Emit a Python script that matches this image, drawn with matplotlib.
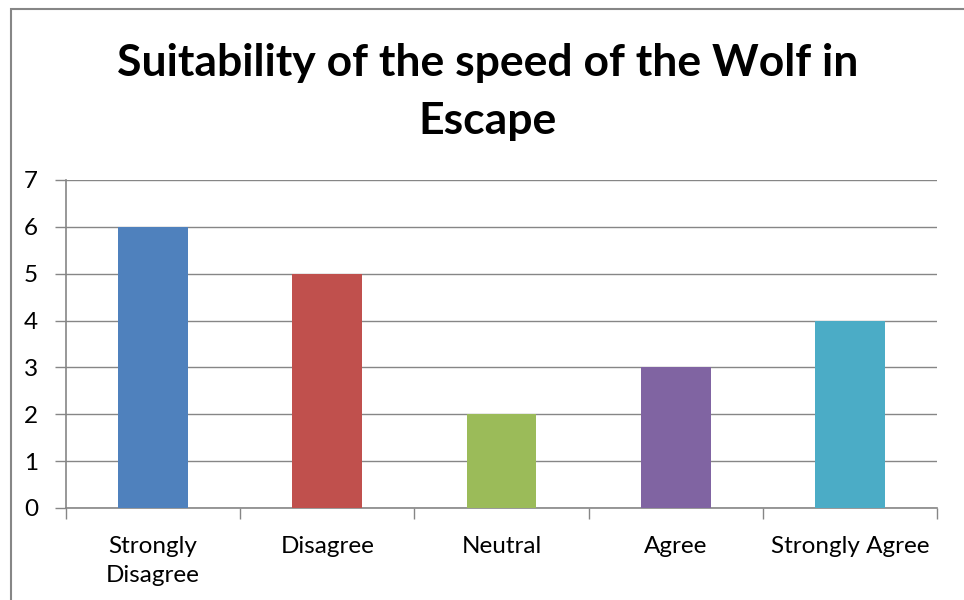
import matplotlib
matplotlib.use("Agg")
import matplotlib.pyplot as plt
from matplotlib.patches import Rectangle
import numpy as np

categories = ["Strongly\nDisagree", "Disagree", "Neutral", "Agree", "Strongly Agree"]
values = [6, 5, 2, 3, 4]
colors = ["#4F81BD", "#C0504D", "#9BBB59", "#8064A2", "#4BACC6"]
yticks = [0, 1, 2, 3, 4, 5, 6, 7]
title = "Suitability of the speed of the Wolf in\nEscape"

plt.rcParams["font.family"] = ["Lato", "DejaVu Sans"]

fig = plt.figure(figsize=(9.64, 6.0), dpi=100)
ax = fig.add_axes([66 / 964, 1 - 508 / 600, (937 - 66) / 964, (508 - 180) / 600])

grid_col = "#868686"
x = np.arange(len(categories))
ax.bar(x, values, width=0.4, color=colors, zorder=3)

ax.set_xlim(-0.5, len(categories) - 0.5)
ax.set_ylim(0, 7)
ax.set_yticks(yticks)
ax.yaxis.grid(True, color=grid_col, linewidth=1.0, zorder=0)
ax.tick_params(axis="y", length=8, width=1, color=grid_col, labelsize=17.5, pad=12)

ax.set_xticks(x)
ax.set_xticklabels(categories, fontsize=17.5, linespacing=1.5)
ax.tick_params(axis="x", which="major", length=0, pad=20)
ax.set_xticks(np.arange(-0.5, len(categories), 1.0), minor=True)
ax.tick_params(axis="x", which="minor", length=8, width=1, color=grid_col)

for side in ["top", "right"]:
    ax.spines[side].set_visible(False)
for side in ["left", "bottom"]:
    ax.spines[side].set_color(grid_col)
    ax.spines[side].set_linewidth(1.2)

fig.text(488 / 964, 1 - 92 / 600, title, ha="center", va="center",
         fontsize=32, fontweight="bold", linespacing=1.55)

# chart area frame
fig.patches.append(Rectangle((11 / 964, -0.1), 1.2, 1 - 9 / 600 + 0.1,
                             transform=fig.transFigure, fill=False,
                             edgecolor=grid_col, linewidth=1.5))

fig.savefig("out.png", dpi=100)
